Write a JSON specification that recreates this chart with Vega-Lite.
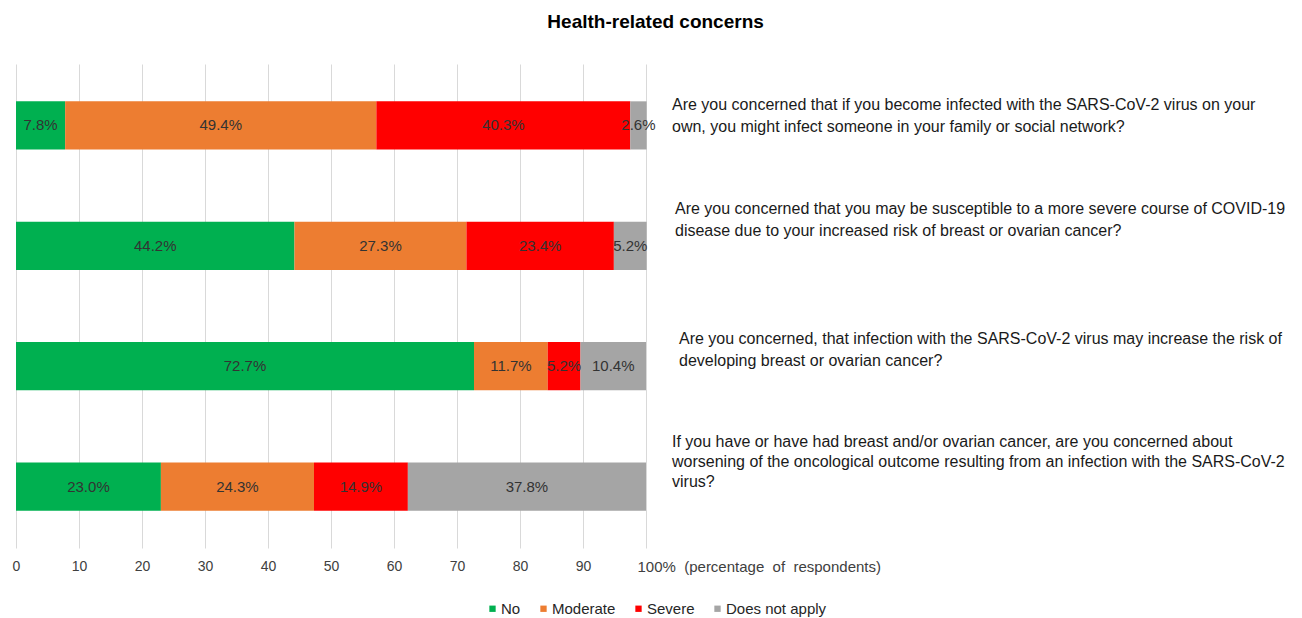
{
  "$schema": "https://vega.github.io/schema/vega-lite/v6.json",
  "width": 630,
  "height": 484,
  "padding": {"left": 12, "top": 13, "right": 0, "bottom": 0},
  "background": "white",
  "config": {"view": {"stroke": null}, "font": "Liberation Sans"},
  "title": {"text": "Health-related concerns", "fontSize": 19, "fontWeight": "bold", "color": "#000000", "frame": "bounds", "anchor": "middle", "offset": 32, "dx": 7, "font": "Liberation Sans"},
  "datasets": {
    "answers": [
      {"q": "Q1", "cat": "No", "order": 1, "value": 7.8},
      {"q": "Q1", "cat": "Moderate", "order": 2, "value": 49.4},
      {"q": "Q1", "cat": "Severe", "order": 3, "value": 40.3},
      {"q": "Q1", "cat": "Does not apply", "order": 4, "value": 2.6},
      {"q": "Q2", "cat": "No", "order": 1, "value": 44.2},
      {"q": "Q2", "cat": "Moderate", "order": 2, "value": 27.3},
      {"q": "Q2", "cat": "Severe", "order": 3, "value": 23.4},
      {"q": "Q2", "cat": "Does not apply", "order": 4, "value": 5.2},
      {"q": "Q3", "cat": "No", "order": 1, "value": 72.7},
      {"q": "Q3", "cat": "Moderate", "order": 2, "value": 11.7},
      {"q": "Q3", "cat": "Severe", "order": 3, "value": 5.2},
      {"q": "Q3", "cat": "Does not apply", "order": 4, "value": 10.4},
      {"q": "Q4", "cat": "No", "order": 1, "value": 23.0},
      {"q": "Q4", "cat": "Moderate", "order": 2, "value": 24.3},
      {"q": "Q4", "cat": "Severe", "order": 3, "value": 14.9},
      {"q": "Q4", "cat": "Does not apply", "order": 4, "value": 37.8}
    ],
    "questions": [
      {"q": "Q1", "text": "Are you concerned that if you become infected with the SARS-CoV-2 virus on your|own, you might infect someone in your family or social network?"},
      {"q": "Q2", "text": "Are you concerned that you may be susceptible to a more severe course of COVID-19|disease due to your increased risk of breast or ovarian cancer?"},
      {"q": "Q3", "text": "Are you concerned, that infection with the SARS-CoV-2 virus may increase the risk of|developing breast or ovarian cancer?"},
      {"q": "Q4", "text": "If you have or have had breast and/or ovarian cancer, are you concerned about|worsening of the oncological outcome resulting from an infection with the SARS-CoV-2|virus?"}
    ]
  },
  "encoding": {
    "y": {"field": "q", "type": "nominal", "axis": null, "scale": {"domain": ["Q1", "Q2", "Q3", "Q4"], "paddingInner": 0.6, "paddingOuter": 0.31}}
  },
  "layer": [
    {
      "data": {"name": "answers"},
      "transform": [{"stack": "value", "groupby": ["q"], "sort": [{"field": "order"}], "as": ["v0", "v1"]}],
      "mark": {"type": "bar"},
      "encoding": {
        "x": {"field": "v0", "type": "quantitative", "scale": {"domain": [0, 100], "nice": false},
          "axis": {"values": [0, 10, 20, 30, 40, 50, 60, 70, 80, 90, 100], "grid": true, "gridColor": "#d9d9d9", "domain": false, "ticks": false, "labelPadding": 11, "labelFontSize": {"condition": {"test": "datum.value == 100", "value": 15}, "value": 14}, "labelColor": "#404040", "title": null, "labelFlush": false, "labelOverlap": false, "labelBound": false, "labelLimit": 0,
            "labelExpr": "datum.value == 100 ? '100%\u00a0\u00a0(percentage\u00a0 of\u00a0 respondents)' : datum.label",
            "labelAlign": {"condition": {"test": "datum.value == 100", "value": "left"}, "value": "center"},
            "labelOffset": {"condition": {"test": "datum.value == 100", "value": -9}, "value": 0}}},
        "x2": {"field": "v1"},
        "color": {"field": "cat", "type": "nominal",
          "scale": {"domain": ["No", "Moderate", "Severe", "Does not apply"], "range": ["#00B050", "#ED7D31", "#FF0000", "#A5A5A5"]},
          "legend": {"title": null, "orient": "none", "legendX": 469, "legendY": 537, "direction": "horizontal", "symbolType": "square", "symbolSize": 40, "labelFontSize": 15, "columnPadding": 15, "labelColor": "#262626", "symbolStrokeWidth": 0, "labelOffset": 1}}
      }
    },
    {
      "data": {"name": "answers"},
      "transform": [
        {"stack": "value", "groupby": ["q"], "sort": [{"field": "order"}], "as": ["v0", "v1"]},
        {"calculate": "(datum.v0 + datum.v1) / 2", "as": "mid"},
        {"calculate": "format(datum.value, '.1f') + '%'", "as": "label"}
      ],
      "mark": {"type": "text", "fontSize": 15, "color": "#333333", "align": "center", "baseline": "middle"},
      "encoding": {
        "x": {"field": "mid", "type": "quantitative"},
        "text": {"field": "label", "type": "nominal"}
      }
    },
    {
      "data": {"name": "questions"},
      "transform": [{"filter": "datum.q == 'Q1'"}],
      "mark": {"type": "text", "fontSize": 16, "color": "#1a1a1a", "align": "left", "baseline": "middle", "lineBreak": "|", "lineHeight": 22, "dx": 26, "dy": -20},
      "encoding": {"x": {"datum": 100, "type": "quantitative"}, "text": {"field": "text", "type": "nominal"}}
    },
    {
      "data": {"name": "questions"},
      "transform": [{"filter": "datum.q == 'Q2'"}],
      "mark": {"type": "text", "fontSize": 16, "color": "#1a1a1a", "align": "left", "baseline": "middle", "lineBreak": "|", "lineHeight": 22, "dx": 29, "dy": -37},
      "encoding": {"x": {"datum": 100, "type": "quantitative"}, "text": {"field": "text", "type": "nominal"}}
    },
    {
      "data": {"name": "questions"},
      "transform": [{"filter": "datum.q == 'Q3'"}],
      "mark": {"type": "text", "fontSize": 16, "color": "#1a1a1a", "align": "left", "baseline": "middle", "lineBreak": "|", "lineHeight": 22, "dx": 33, "dy": -27},
      "encoding": {"x": {"datum": 100, "type": "quantitative"}, "text": {"field": "text", "type": "nominal"}}
    },
    {
      "data": {"name": "questions"},
      "transform": [{"filter": "datum.q == 'Q4'"}],
      "mark": {"type": "text", "fontSize": 16, "color": "#1a1a1a", "align": "left", "baseline": "middle", "lineBreak": "|", "lineHeight": 20, "dx": 26, "dy": -45},
      "encoding": {"x": {"datum": 100, "type": "quantitative"}, "text": {"field": "text", "type": "nominal"}}
    }
  ]
}
